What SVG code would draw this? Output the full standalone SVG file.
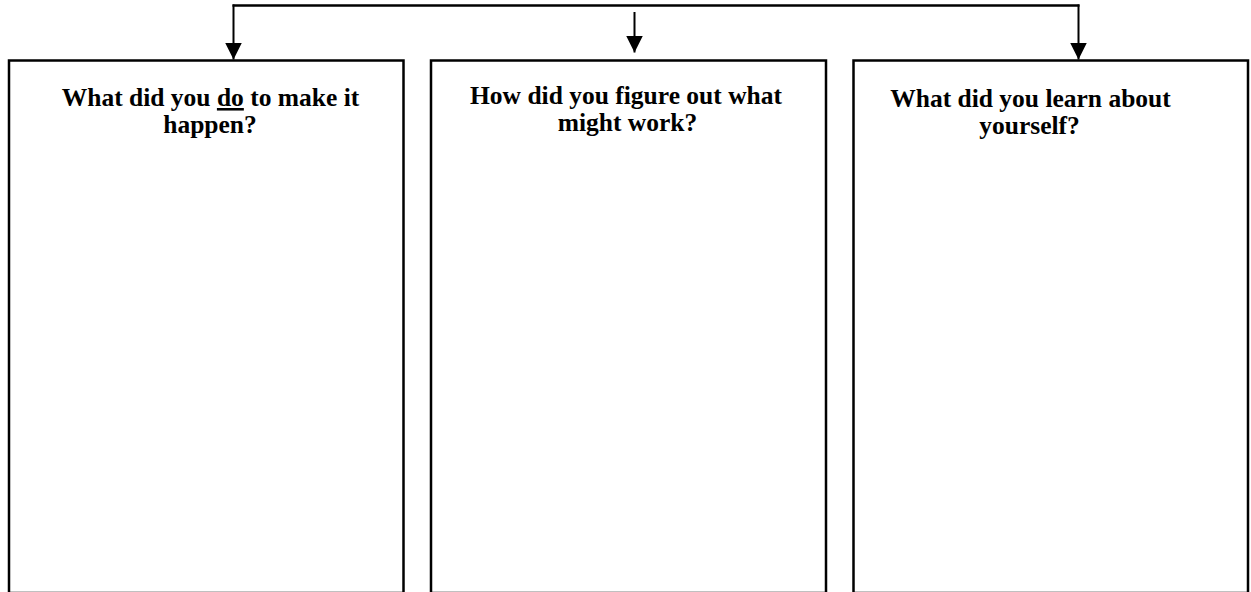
<svg xmlns="http://www.w3.org/2000/svg" width="1251" height="592" viewBox="0 0 1251 592">
  <style>
    .box { fill: #ffffff; stroke: #000000; stroke-width: 2.5; }
    .wire { fill: none; stroke: #000000; stroke-width: 2; }
    .bus { fill: none; stroke: #000000; stroke-width: 2.5; }
    .q { font-family: "Liberation Serif", "Times New Roman", serif; font-weight: bold; font-size: 25.5px; fill: #000000; text-anchor: middle; }
  </style>
  <defs>
    <!-- solid triangular head, tip at the end of the line -->
    <marker id="head" viewBox="0 0 17 17" refX="17" refY="8.5" markerWidth="17" markerHeight="17" markerUnits="userSpaceOnUse" orient="auto">
      <path d="M0,0 L17,8.5 L0,17 Z" fill="#000000"/>
    </marker>
  </defs>
  <rect width="1251" height="592" fill="#ffffff"/>

  <!-- connectors -->
  <g id="connectors">
    <path class="bus" d="M232.5,5.5 L1079.5,5.5"/>
    <path class="wire" d="M233.5,4.5 L233.5,59.5" marker-end="url(#head)"/>
    <path class="wire" d="M1078.5,4.5 L1078.5,59.5" marker-end="url(#head)"/>
    <path class="wire" d="M634.5,12 L634.5,52.5" marker-end="url(#head)"/>
  </g>

  <!-- question boxes (bottom edges run off the page) -->
  <g id="box-do">
    <rect class="box" x="9" y="60.5" width="394.5" height="532.5"/>
    <text class="q" x="210.5" y="106">What did you <tspan text-decoration="underline">do</tspan> to make it</text>
    <text class="q" x="210" y="132.5">happen?</text>
  </g>
  <g id="box-figure">
    <rect class="box" x="431" y="60.5" width="395" height="532.5"/>
    <text class="q" x="626" y="104">How did you figure out what</text>
    <text class="q" x="627.5" y="130.5">might work?</text>
  </g>
  <g id="box-learn">
    <rect class="box" x="853.5" y="60.5" width="394.5" height="532.5"/>
    <text class="q" x="1030.5" y="107">What did you learn about</text>
    <text class="q" x="1029.5" y="133.5">yourself?</text>
  </g>
</svg>
